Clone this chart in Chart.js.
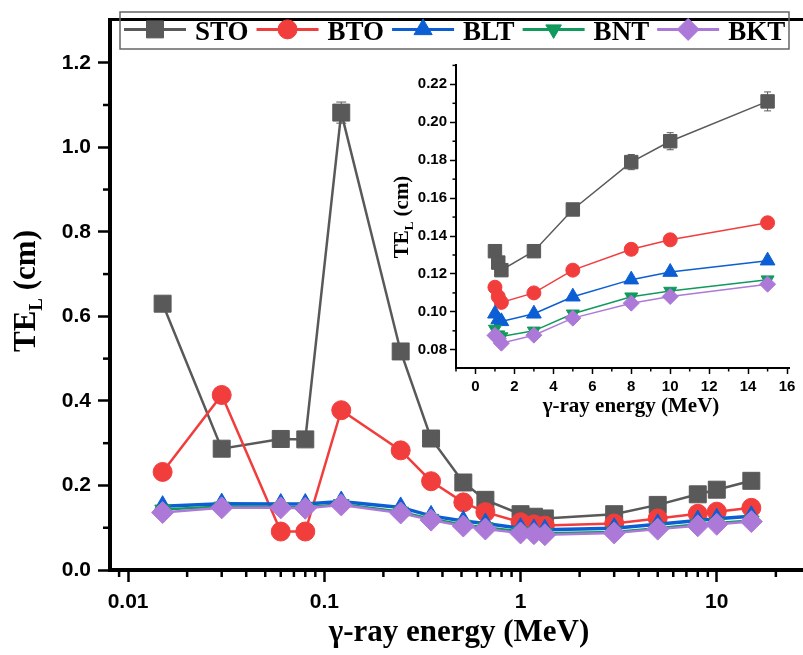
<!DOCTYPE html>
<html lang="en">
<head>
<meta charset="UTF-8" />
<title>TE_L vs gamma-ray energy</title>
<script src="https://cdn.jsdelivr.net/npm/chart.js"></script>
<style>
  body { margin: 0; background: #fff; }
  #wrap { position: relative; width: 803px; height: 655px; }
  #mainChart { position: absolute; left: 0; top: 0; }
  #insetChart { position: absolute; left: 380px; top: 50px; }
</style>
</head>
<body>
<div id="wrap">
  <canvas id="mainChart" width="803" height="655"></canvas>
  <canvas id="insetChart" width="423" height="380"></canvas>
</div>
<script>
  // gamma-ray energies (MeV)
  const energies = [0.015, 0.03, 0.06, 0.08, 0.122, 0.245, 0.35, 0.511, 0.662, 1.0, 1.17, 1.33, 3, 5, 8, 10, 15];
  // TE_L (cm) for each glass
  const sto = [0.630, 0.287, 0.310, 0.309, 1.082, 0.517, 0.311, 0.207, 0.166, 0.132, 0.126, 0.122, 0.132, 0.154, 0.179, 0.190, 0.211];
  const stoErr = [0.006, 0.004, 0.004, 0.004, 0.025, 0.008, 0.006, 0.004, 0.004, 0.003, 0.003, 0.003, 0.003, 0.003, 0.004, 0.0045, 0.005];
  const bto = [0.232, 0.414, 0.091, 0.091, 0.378, 0.283, 0.210, 0.160, 0.137, 0.113, 0.108, 0.105, 0.110, 0.122, 0.133, 0.138, 0.147];
  const blt = [0.151, 0.157, 0.156, 0.156, 0.162, 0.148, 0.128, 0.116, 0.110, 0.099, 0.096, 0.095, 0.099, 0.108, 0.117, 0.121, 0.127];
  const bnt = [0.143, 0.150, 0.149, 0.148, 0.156, 0.138, 0.121, 0.107, 0.101, 0.091, 0.088, 0.087, 0.090, 0.099, 0.108, 0.111, 0.117];
  const bkt = [0.136, 0.147, 0.147, 0.146, 0.154, 0.135, 0.118, 0.104, 0.097, 0.0876, 0.086, 0.0835, 0.0877, 0.0967, 0.1046, 0.1081, 0.1146];
  const insetFrom = 9; // inset only shows the points from 1 MeV up

  const seriesNames = ['STO', 'BTO', 'BLT', 'BNT', 'BKT'];
  const seriesValues = [sto, bto, blt, bnt, bkt];

  const mainXRange = [0.00809, 27.5];
  const mainXTicks = [0.01, 0.1, 1, 10];
  const mainXLabels = ['0.01', '0.1', '1', '10'];
  const mainYTicks = [0, 0.2, 0.4, 0.6, 0.8, 1.0, 1.2];
  const insetXTicks = [0, 2, 4, 6, 8, 10, 12, 14, 16];
  const insetYTicks = [0.08, 0.10, 0.12, 0.14, 0.16, 0.18, 0.20, 0.22];

  const colors = ['#595959', '#f23d3d', '#0b5ed3', '#109a5b', '#ad79d8'];
  const styles = ['rect', 'circle', 'triangle', 'triangle', 'rectRot'];
  const rotations = [0, 0, 0, 180, 0];
  const bigRadius = [12, 9.5, 10.5, 9, 11];
  const smallRadius = [9.5, 7, 8.5, 7.5, 8];

  const SANS = '"Liberation Sans", Arial, sans-serif';
  const SERIF = '"Liberation Serif", "Times New Roman", serif';

  function buildSets(xs, from, radii, lw) {
    return seriesValues.map((vals, i) => ({
      label: seriesNames[i],
      data: xs.map((x, j) => ({ x: x, y: vals[from + j] })),
      errors: i === 0 ? stoErr.slice(from) : null,
      borderColor: colors[i],
      backgroundColor: colors[i],
      pointBackgroundColor: colors[i],
      pointBorderColor: colors[i],
      pointBorderWidth: 1,
      pointStyle: styles[i],
      rotation: rotations[i],
      pointRadius: radii[i],
      pointHoverRadius: radii[i],
      borderWidth: lw[i],
      tension: 0,
      order: 5 - i
    }));
  }

  // minor ticks, titles, error bars, frame and legend
  function makeDecor(cfg) {
    return {
      id: 'decor',
      beforeDatasetsDraw(chart) {
        const ctx = chart.ctx, ys = chart.scales.y;
        chart.data.datasets.forEach((ds, i) => {
          if (!ds.errors) return;
          const meta = chart.getDatasetMeta(i);
          ctx.save();
          ctx.strokeStyle = ds.borderColor;
          ctx.lineWidth = 1;
          meta.data.forEach((pt, j) => {
            const v = ds.data[j].y, e = ds.errors[j];
            const t = ys.getPixelForValue(v + e), b = ys.getPixelForValue(v - e);
            ctx.beginPath();
            ctx.moveTo(pt.x, t); ctx.lineTo(pt.x, b);
            ctx.moveTo(pt.x - cfg.cap, t); ctx.lineTo(pt.x + cfg.cap, t);
            ctx.moveTo(pt.x - cfg.cap, b); ctx.lineTo(pt.x + cfg.cap, b);
            ctx.stroke();
          });
          ctx.restore();
        });
      },
      afterDraw(chart) {
        const ctx = chart.ctx, a = chart.chartArea;
        const xs = chart.scales.x, ys = chart.scales.y;
        ctx.save();
        ctx.strokeStyle = '#000';
        ctx.lineWidth = cfg.minorWidth;
        cfg.minorX.forEach(v => {
          const px = xs.getPixelForValue(v);
          if (px < a.left || px > a.right) return;
          ctx.beginPath(); ctx.moveTo(px, a.bottom); ctx.lineTo(px, a.bottom + cfg.minorLen); ctx.stroke();
        });
        cfg.minorY.forEach(v => {
          const py = ys.getPixelForValue(v);
          if (py < a.top || py > a.bottom) return;
          ctx.beginPath(); ctx.moveTo(a.left, py); ctx.lineTo(a.left - cfg.minorLen, py); ctx.stroke();
        });
        if (cfg.frameTop) {
          ctx.lineWidth = cfg.frameTop;
          ctx.beginPath(); ctx.moveTo(a.left - 2, a.top); ctx.lineTo(a.right, a.top); ctx.stroke();
        }

        // x title
        ctx.fillStyle = '#000';
        ctx.textBaseline = 'alphabetic';
        ctx.textAlign = 'left';
        ctx.font = 'bold ' + cfg.xTitle.size + 'px ' + SERIF;
        const xt = '\u03B3-ray energy (MeV)';
        ctx.fillText(xt, cfg.xTitle.x - ctx.measureText(xt).width / 2, cfg.xTitle.y);

        // y title TE_L (cm)
        const f = cfg.yTitle.size, fs = Math.round(f * 0.62);
        const big = 'bold ' + f + 'px ' + SERIF, small = 'bold ' + fs + 'px ' + SERIF;
        ctx.font = big; const w1 = ctx.measureText('TE').width, w3 = ctx.measureText(' (cm)').width;
        ctx.font = small; const w2 = ctx.measureText('L').width;
        ctx.translate(cfg.yTitle.x, cfg.yTitle.y);
        ctx.rotate(-Math.PI / 2);
        let sx = -(w1 + w2 + w3) / 2;
        ctx.font = big; ctx.fillText('TE', sx, 0); sx += w1;
        ctx.font = small; ctx.fillText('L', sx, f * 0.22); sx += w2;
        ctx.font = big; ctx.fillText(' (cm)', sx, 0);
        ctx.restore();

        if (cfg.legend) {
          const L = cfg.legend;
          ctx.save();
          ctx.strokeStyle = '#666';
          ctx.lineWidth = 1.5;
          ctx.strokeRect(L.x, L.y, L.w, L.h);
          ctx.font = 'bold ' + L.size + 'px ' + SERIF;
          ctx.textBaseline = 'alphabetic';
          let x = L.x + 4;
          const cy = L.y + L.h * 0.47;
          chart.data.datasets.forEach((ds, i) => {
            ctx.strokeStyle = colors[i];
            ctx.fillStyle = colors[i];
            ctx.lineWidth = 3;
            ctx.beginPath(); ctx.moveTo(x, cy); ctx.lineTo(x + L.line, cy); ctx.stroke();
            ctx.lineWidth = 1;
            Chart.helpers.drawPoint(ctx, { pointStyle: styles[i], rotation: rotations[i], radius: bigRadius[i], borderWidth: 1 }, x + L.line / 2, cy);
            x += L.line + 9;
            ctx.fillStyle = '#000';
            ctx.fillText(seriesNames[i], x, L.y + L.h * 0.75);
            x += ctx.measureText(seriesNames[i]).width + 8;
          });
          ctx.restore();
        }
      }
    };
  }

  function tickFont(size) {
    return { family: SANS, weight: 'bold', size: size };
  }

  // ---- main chart ----
  const logMinor = [];
  [0.001, 0.01, 0.1, 1, 10].forEach(d => {
    for (let k = 2; k <= 9; k++) logMinor.push(d * k);
  });

  new Chart(document.getElementById('mainChart'), {
    type: 'line',
    data: { datasets: buildSets(energies, 0, bigRadius, [2.5, 2.5, 3.5, 2.5, 2.5]) },
    options: {
      responsive: false,
      animation: false,
      layout: { autoPadding: false, padding: { top: 10, right: 0, left: 0, bottom: 0 } },
      plugins: { legend: { display: false }, tooltip: { enabled: false } },
      scales: {
        x: {
          type: 'logarithmic',
          bounds: 'data',
          min: mainXRange[0],
          max: mainXRange[1],
          afterBuildTicks: s => {
            s.min = mainXRange[0];
            s.max = mainXRange[1];
            s.ticks = mainXTicks.map(v => ({ value: v }));
          },
          afterFit: s => { s.height = 85; s.paddingLeft = 0; s.paddingRight = 0; },
          ticks: { callback: (v, i) => mainXLabels[i], font: tickFont(21), color: '#000', padding: 8, maxRotation: 0, autoSkip: false },
          grid: { drawOnChartArea: false, tickLength: 12, tickWidth: 2.5, tickColor: '#000' },
          border: { color: '#000', width: 4 }
        },
        y: {
          min: 0,
          max: 1.302,
          afterBuildTicks: s => { s.ticks = mainYTicks.map(v => ({ value: v })); },
          afterFit: s => { s.width = 110; },
          ticks: { callback: v => v.toFixed(1), font: tickFont(21), color: '#000', padding: 7, autoSkip: false },
          grid: { drawOnChartArea: false, tickLength: 12, tickWidth: 2.5, tickColor: '#000' },
          border: { color: '#000', width: 4 }
        }
      }
    },
    plugins: [makeDecor({
      cap: 5, minorWidth: 2.5, minorLen: 7,
      minorX: logMinor,
      minorY: [0.1, 0.3, 0.5, 0.7, 0.9, 1.1],
      frameTop: 3,
      xTitle: { x: 459, y: 641, size: 31 },
      yTitle: { x: 35, y: 291, size: 31 },
      legend: { x: 120, y: 12, w: 669, h: 37, line: 62, size: 27 }
    })]
  });

  // ---- inset chart ----
  new Chart(document.getElementById('insetChart'), {
    type: 'line',
    data: { datasets: buildSets(energies.slice(insetFrom), insetFrom, smallRadius, [1.5, 1.5, 1.5, 1.5, 1.5]) },
    options: {
      responsive: false,
      animation: false,
      layout: { autoPadding: false, padding: { top: 15, right: 14, left: 0, bottom: 0 } },
      plugins: { legend: { display: false }, tooltip: { enabled: false } },
      scales: {
        x: {
          type: 'linear',
          min: -1,
          max: 16.1,
          afterBuildTicks: s => { s.ticks = insetXTicks.map(v => ({ value: v })); },
          afterFit: s => { s.height = 62; s.paddingLeft = 0; s.paddingRight = 0; },
          ticks: { callback: v => String(v), font: tickFont(15), color: '#000', padding: 4, maxRotation: 0, autoSkip: false },
          grid: { drawOnChartArea: false, tickLength: 6, tickWidth: 1.5, tickColor: '#000' },
          border: { color: '#000', width: 2 }
        },
        y: {
          min: 0.0704,
          max: 0.2302,
          afterBuildTicks: s => { s.ticks = insetYTicks.map(v => ({ value: v })); },
          afterFit: s => { s.width = 76; },
          ticks: { callback: v => v.toFixed(2), font: tickFont(15), color: '#000', padding: 3, autoSkip: false },
          grid: { drawOnChartArea: false, tickLength: 6, tickWidth: 1.5, tickColor: '#000' },
          border: { color: '#000', width: 2 }
        }
      }
    },
    plugins: [makeDecor({
      cap: 3.5, minorWidth: 1.5, minorLen: 3.5,
      minorX: [-1, 1, 3, 5, 7, 9, 11, 13, 15],
      minorY: [0.09, 0.11, 0.13, 0.15, 0.17, 0.19, 0.21, 0.23],
      frameTop: 0,
      xTitle: { x: 251, y: 362, size: 21 },
      yTitle: { x: 28, y: 167, size: 21 },
      legend: null
    })]
  });
</script>
</body>
</html>
